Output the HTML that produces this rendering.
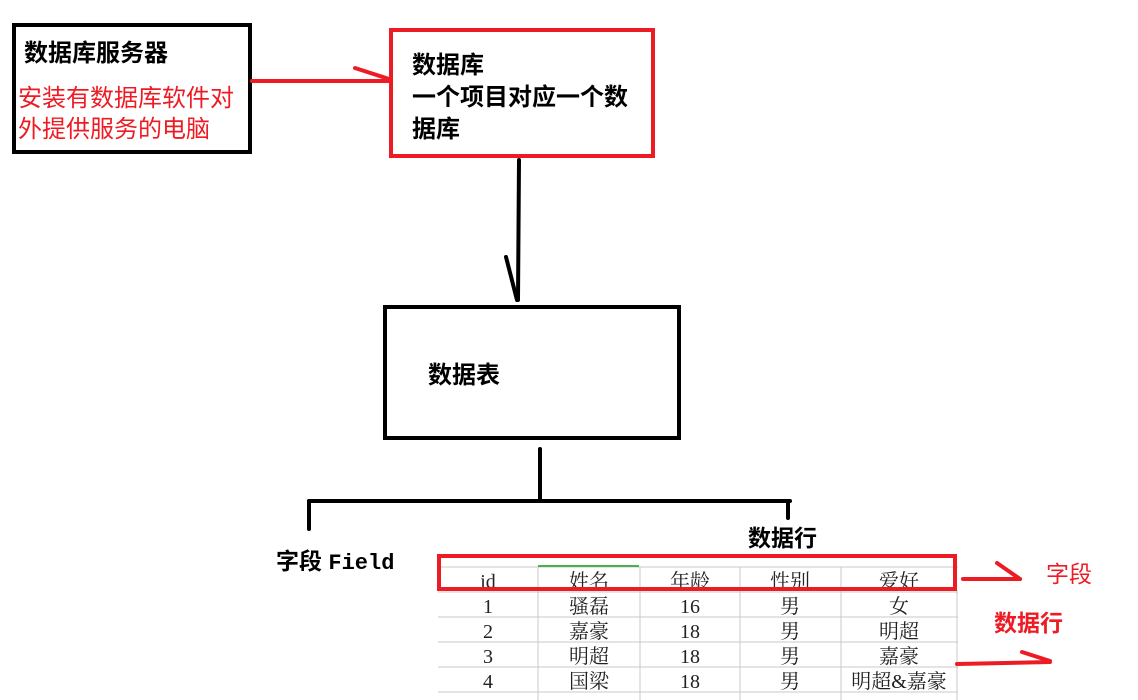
<!DOCTYPE html>
<html><head><meta charset="utf-8"><style>
html,body{margin:0;padding:0;background:#fff;width:1138px;height:700px;overflow:hidden}
svg{display:block}
text{font-family:"Liberation Serif","Noto Serif CJK SC","Noto Sans CJK SC",serif}
.b{font-family:"Liberation Sans","Noto Sans CJK SC",sans-serif;font-weight:bold}
.s{font-family:"Liberation Sans","Noto Sans CJK SC",sans-serif}
</style></head><body>
<svg width="1138" height="700" viewBox="0 0 1138 700" xmlns="http://www.w3.org/2000/svg">
<rect x="14" y="25" width="236" height="127" fill="none" stroke="#000" stroke-width="4"/>
<text class="b" x="24" y="61" font-size="24" fill="#000">数据库服务器</text>
<text class="s" x="18" y="106" font-size="24" fill="#ed1c24">安装有数据库软件对</text>
<text class="s" x="18" y="137" font-size="24" fill="#ed1c24">外提供服务的电脑</text>
<rect x="391" y="30" width="262" height="126" fill="none" stroke="#ed1c24" stroke-width="4"/>
<text class="b" x="412" y="73" font-size="24">数据库</text>
<text class="b" x="412" y="105" font-size="24">一个项目对应一个数</text>
<text class="b" x="412" y="137" font-size="24">据库</text>
<line x1="252" y1="81" x2="390" y2="81" stroke="#ed1c24" stroke-width="4" stroke-linecap="round"/>
<line x1="355" y1="68" x2="389" y2="79" stroke="#ed1c24" stroke-width="4" stroke-linecap="round"/>
<line x1="519" y1="160" x2="518" y2="300" stroke="#000" stroke-width="4" stroke-linecap="round"/>
<line x1="506" y1="257" x2="517" y2="300" stroke="#000" stroke-width="4" stroke-linecap="round"/>
<rect x="385" y="307" width="294" height="131" fill="none" stroke="#000" stroke-width="4"/>
<text class="b" x="428" y="383" font-size="24">数据表</text>
<line x1="540" y1="449" x2="540" y2="500" stroke="#000" stroke-width="4" stroke-linecap="round"/>
<line x1="309" y1="501" x2="790" y2="501" stroke="#000" stroke-width="4" stroke-linecap="round"/>
<line x1="309" y1="501" x2="309" y2="529" stroke="#000" stroke-width="4" stroke-linecap="round"/>
<line x1="788" y1="501" x2="788" y2="518" stroke="#000" stroke-width="4" stroke-linecap="round"/>
<text class="b" x="276" y="569" font-size="23">字段 <tspan font-family="Liberation Mono,monospace" font-size="22">Field</tspan></text>
<text class="b" x="748" y="546" font-size="23">数据行</text>
<g stroke="#c8c8c8" stroke-width="1">
<line x1="438" y1="567" x2="958" y2="567"/>
<line x1="438" y1="592" x2="958" y2="592"/>
<line x1="438" y1="617" x2="958" y2="617"/>
<line x1="438" y1="642" x2="958" y2="642"/>
<line x1="438" y1="667" x2="958" y2="667"/>
<line x1="438" y1="692" x2="958" y2="692"/>
<line x1="538" y1="567" x2="538" y2="700"/>
<line x1="640" y1="567" x2="640" y2="700"/>
<line x1="740" y1="567" x2="740" y2="700"/>
<line x1="841" y1="567" x2="841" y2="700"/>
<line x1="957" y1="590" x2="957" y2="700"/>
</g>
<line x1="538" y1="566" x2="639" y2="566" stroke="#4caf50" stroke-width="2"/>
<g font-size="20" fill="#222" text-anchor="middle">
<text x="488" y="588">id</text><text x="589" y="588">姓名</text><text x="690" y="588">年龄</text><text x="790" y="588">性别</text><text x="899" y="588">爱好</text>
<text x="488" y="613">1</text><text x="589" y="613">骚磊</text><text x="690" y="613">16</text><text x="790" y="613">男</text><text x="899" y="613">女</text>
<text x="488" y="638">2</text><text x="589" y="638">嘉豪</text><text x="690" y="638">18</text><text x="790" y="638">男</text><text x="899" y="638">明超</text>
<text x="488" y="663">3</text><text x="589" y="663">明超</text><text x="690" y="663">18</text><text x="790" y="663">男</text><text x="899" y="663">嘉豪</text>
<text x="488" y="688">4</text><text x="589" y="688">国梁</text><text x="690" y="688">18</text><text x="790" y="688">男</text><text x="899" y="688">明超&amp;嘉豪</text>
</g>
<rect x="439" y="556" width="516" height="33" fill="none" stroke="#ed1c24" stroke-width="4"/>
<g stroke="#ed1c24" stroke-width="4" stroke-linecap="round">
<line x1="963" y1="579" x2="1020" y2="579"/>
<line x1="997" y1="563" x2="1020" y2="579"/>
<line x1="957" y1="664" x2="1050" y2="662"/>
<line x1="1022" y1="652" x2="1050" y2="661"/>
</g>
<text class="s" x="1046" y="582" font-size="23" fill="#ed1c24">字段</text>
<text class="b" x="994" y="631" font-size="23" fill="#ed1c24">数据行</text>
</svg>
</body></html>
